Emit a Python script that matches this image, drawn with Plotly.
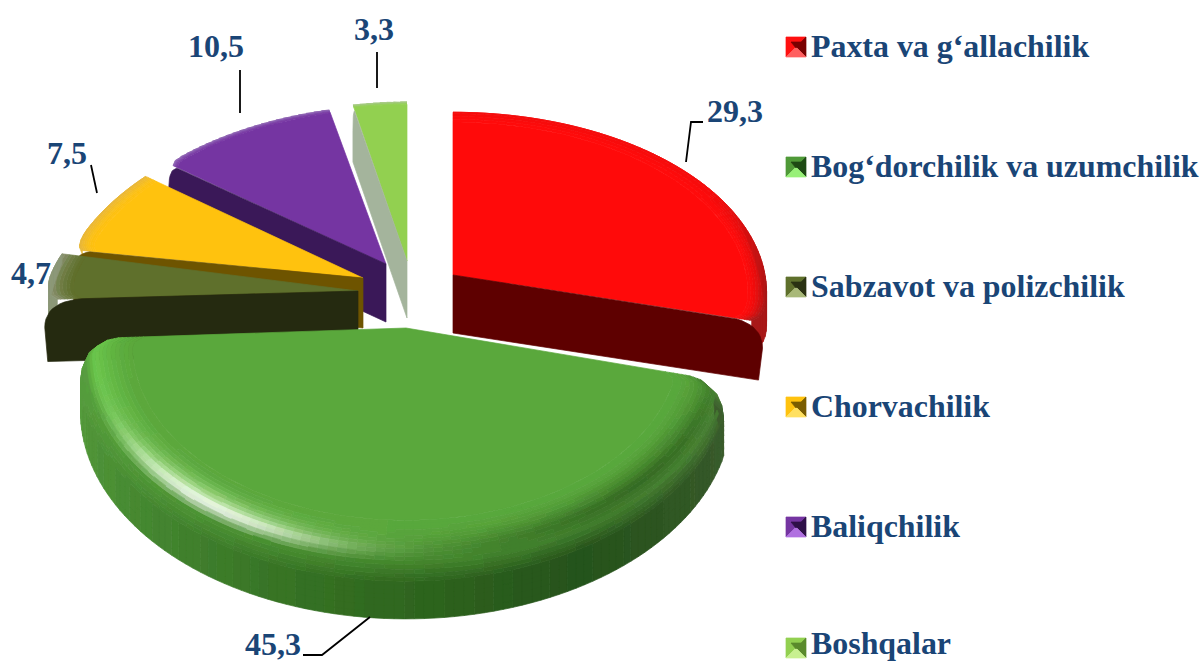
import math
import plotly.graph_objects as go

categories = ["Paxta va g‘allachilik", "Bog‘dorchilik va uzumchilik", "Sabzavot va polizchilik",
              "Chorvachilik", "Baliqchilik", "Boshqalar"]
values = [29.3, 45.3, 4.7, 7.5, 10.5, 3.3]

# look of each slice (apex x, y, radii, visible cut face, etc.), pixel-like axis units
styles = [
    dict(ax=453, ay=275, rx=312, ry=179, sh=0, face="end", depth=58, ins=4, base="#ff0a0a", fc="#5e0000",
         rim="#a81818", inner=0.94, wd=30, rnd=(0, 1), w=7, ra=0.035, lit=(60, 95), qf=0.88),
    dict(ax=406, ay=328, rx=324, ry=206, sh=0, face=None, depth=62, ins=0, base="#5aa83c", fc="#2c5c1c",
         rim="#2f6a1d", inner=0.84, wd=0, rnd=(1, 1), w=4, ra=0.04, lit=None, qf=0.9),
    dict(ax=358, ay=291, rx=312, ry=160, sh=0, face="start", depth=62, ins=-3, base="#5f702c", fc="#252a10",
         rim="#8d9676", inner=0.92, wd=30, rnd=(1, 0), w=9, ra=0.04, lit=None, qf=0.86),
    dict(ax=363, ay=278, rx=305, ry=184, sh=0.05, face="start", depth=50, ins=0, base="#ffc20e", fc="#6e5400",
         rim="#e8b838", inner=0.95, wd=12, rnd=(1, 0), w=7, ra=0.03, lit=None, qf=0.92),
    dict(ax=386, ay=264, rx=305, ry=175, sh=0.03, face="start", depth=58, ins=0, base="#7535a2", fc="#3a1858",
         rim="#8f66b4", inner=0.98, wd=0, rnd=(1, 0), w=4, ra=0.02, lit=None, qf=0.94),
    dict(ax=407, ay=261, rx=290, ry=175, sh=0, face="start", depth=57, ins=0, base="#92d050", fc="#a4b49c",
         rim="#a8c888", inner=0.985, wd=0, rnd=(0, 0), w=3, ra=0.0, lit=None, qf=0.95),
]
draw_order = [5, 4, 3, 2, 0, 1]
K = 0.10
TEXT = "#1a4576"
FONT = "Liberation Serif"

leaders = [
    ([686, 691, 703], [162, 122, 122]),
    ([303, 322, 370], [655, 655, 617]),
    ([97, 91], [193, 165]),
    ([240, 240], [113, 70]),
    ([377, 377], [88, 52]),
]
label_xy = [(735, 114), (273, 647), (31, 276), (67, 156), (216, 49), (374, 32)]
legend_y = [47, 167, 287, 407, 527, 648]
legend_text_y = [49, 169, 289, 409, 529, 646]
legend_colors = [("#ff1010", "#7a0000", "#ff6060"), ("#4f9a38", "#1e4a14", "#98f078"),
                 ("#5f702c", "#2a3212", "#a8b878"), ("#ffc20e", "#7a5c00", "#ffe060"),
                 ("#7535a2", "#2e1048", "#b070e0"), ("#92d050", "#5a8a2c", "#c8f090")]
# wall tint of the big slice around its arc: (angle, colour)
green_wall = [(105, "#3c5c2e"), (150, "#25521a"), (185, "#30691f"), (240, "#4b8f35"), (270, "#5aa040")]


def rgb(h):
    return tuple(int(h[i:i + 2], 16) for i in (1, 3, 5))


def mix(a, b, q):
    q = max(0.0, min(1.0, q))
    return tuple(a[i] + (b[i] - a[i]) * q for i in range(3))


def tohex(c, step=4):
    return "#%02x%02x%02x" % tuple(min(255, int(round(v / step) * step)) for v in c)


fig = go.Figure()


def add_poly(xs, ys, color, lw=0.7):
    fig.add_trace(go.Scatter(x=xs, y=ys, mode="lines", fill="toself", fillcolor=color,
                             line=dict(color=color, width=lw), hoverinfo="skip", showlegend=False))


def pt(s, deg, t=1.0, d=0.0):
    a = math.radians(deg)
    u, v = math.sin(a), math.cos(a)
    f = 1.0 / (1.0 + K * v)
    dx = s["rx"] * u * f * t
    return s["ax"] + dx, s["ay"] - s["ry"] * v * f * t + d - s["sh"] * dx


def round_r(s, deg, a0, a1):
    w = s["w"]
    out = 1.0
    if s["rnd"][0] and deg - a0 < w:
        x = (w - (deg - a0)) / w
        out = min(out, 1.0 - s["ra"] * (1 - math.sqrt(max(0.0, 1 - x * x))))
    if s["rnd"][1] and a1 - deg < w:
        x = (w - (a1 - deg)) / w
        out = min(out, 1.0 - s["ra"] * (1 - math.sqrt(max(0.0, 1 - x * x))))
    return out


GREEN_PROFILE = [(0.84, 0), (0.88, 0), (0.92, 0), (0.955, 2), (0.98, 8), (0.995, 18), (1.0, 28), (1.0, 42), (1.0, 62)]
GREEN_Q = [0.0, 0.2, 0.42, 0.62, 0.72, 0.82, 0.9, 0.96, 1.0]


def refine(rows, k):
    out = []
    for a, b in zip(rows, rows[1:]):
        for i in range(k):
            q = i / k
            out.append(tuple(a[j] + (b[j] - a[j]) * q for j in range(len(a))))
    out.append(tuple(rows[-1]))
    return out


def wall_color(deg):
    if deg <= green_wall[0][0]:
        return rgb(green_wall[0][1])
    for (a, ca), (b, cb) in zip(green_wall, green_wall[1:]):
        if deg <= b:
            return mix(rgb(ca), rgb(cb), (deg - a) / (b - a))
    return rgb(green_wall[-1][1])


def green_color(s, deg, q):
    base = rgb(s["base"])
    dark = rgb("#2a5a1a")
    lit_hi = math.exp(-((deg - 217) / 22) ** 2)
    lit_left = math.exp(-((deg - 262) / 26) ** 2)
    dark_right = math.exp(-((deg - 135) / 42) ** 2)

    def top(p):
        c = mix(base, rgb("#bff0a0"), (p ** 2) * 1.0 * lit_hi)
        c = mix(c, (255, 255, 255), (p ** 6) * 1.0 * lit_hi)
        c = mix(c, rgb("#6fd050"), (p ** 1.5) * 0.8 * lit_left)
        return mix(c, dark, (p ** 2) * 0.8 * dark_right)

    if q < 0.62:
        return top(q / 0.62)
    p = (q - 0.62) / 0.38
    wall = wall_color(deg)
    if p < 0.3:
        return mix(top(1.0), mix(base, wall, 0.5), p / 0.3)
    return mix(mix(base, wall, 0.5), wall, (p - 0.3) / 0.4)


def draw_slice(s, a0, a1):
    is_green = s["face"] is None
    n = max(8, int((a1 - a0) / 1.6))
    degs = [a0 + (a1 - a0) * i / n for i in range(n + 1)]
    base = rgb(s["base"])
    rim = rgb(s["rim"])
    inner = s["inner"]
    xs, ys = [s["ax"]], [s["ay"]]
    for g in degs:
        x, y = pt(s, g, inner * round_r(s, g, a0, a1))
        xs.append(x); ys.append(y)
    add_poly(xs + [xs[0]], ys + [ys[0]], s["base"])

    if is_green:
        rows = refine([(t, d, q) for (t, d), q in zip(GREEN_PROFILE, GREEN_Q)], 3)
    else:
        rows = refine([(inner, 0, 0.0), (1.0, 0, 1.0)], 7)

    buckets = {}
    for i in range(n):
        g0, g1 = degs[i], degs[i + 1]
        gm = (g0 + g1) / 2
        r0, r1 = round_r(s, g0, a0, a1), round_r(s, g1, a0, a1)
        fade = lambda g: max(0.0, min(1.0, (0.35 - math.cos(math.radians(g))) / 0.35))
        rw = rows
        if not is_green and s["wd"]:
            rw = rows + [(1.0, s["wd"], 1.0)]
        for j in range(len(rw) - 1):
            t0, d0, q0 = rw[j]
            t1, d1, q1 = rw[j + 1]
            qm = (q0 + q1) / 2
            if is_green:
                c = green_color(s, gm, qm)
                f0 = f1 = 1.0
            else:
                wt = 1.0
                if s["lit"]:
                    wt = 0.12 + 0.88 * max(0.0, min(1.0, (gm - s["lit"][0]) / (s["lit"][1] - s["lit"][0])))
                c = mix(base, rim, (qm ** 1.6) * wt)
                f0, f1 = fade(g0), fade(g1)
            p = [pt(s, g0, t0 * r0, d0 * f0), pt(s, g1, t0 * r1, d0 * f1),
                 pt(s, g1, t1 * r1, d1 * f1), pt(s, g0, t1 * r0, d1 * f0)]
            area = sum(p[k][0] * p[(k + 1) % 4][1] - p[(k + 1) % 4][0] * p[k][1] for k in range(4))
            if area < 0:
                p.reverse()
            b = buckets.setdefault(tohex(c), ([], []))
            b[0].extend([q[0] for q in p] + [p[0][0], None])
            b[1].extend([q[1] for q in p] + [p[0][1], None])
    for color, (bx, by) in buckets.items():
        add_poly(bx, by, color)

    if s["face"]:
        edge = a1 if s["face"] == "end" else a0
        ex, ey = pt(s, edge)
        dep = s["depth"]
        ax, ay = s["ax"], s["ay"]
        px, py = [ax], [ay]
        qx, qy = ax + (ex - ax) * s["qf"], ay + (ey - ay) * s["qf"]
        cy = ey + dep * 0.45
        for i in range(13):
            q = i / 12
            px.append((1 - q) ** 2 * qx + 2 * q * (1 - q) * ex + q * q * ex)
            py.append((1 - q) ** 2 * qy + 2 * q * (1 - q) * ey + q * q * cy)
        px += [ex - s["ins"], ax]
        py += [ey + dep, ay + dep]
        add_poly(px + [ax], py + [ay], s["fc"])


total = sum(values)
angles = []
acc = 0.0
for v in values:
    angles.append((acc, acc + v / total * 360))
    acc += v / total * 360

for i in draw_order:
    draw_slice(styles[i], angles[i][0], angles[i][1])

for lx, ly in leaders:
    fig.add_trace(go.Scatter(x=lx, y=ly, mode="lines", line=dict(color="#000000", width=1.8),
                             hoverinfo="skip", showlegend=False))

value_labels = [f"{v:.1f}".replace(".", ",") for v in values]
fig.add_trace(go.Scatter(x=[p[0] for p in label_xy], y=[p[1] for p in label_xy], mode="text",
                         text=[f"<b>{t}</b>" for t in value_labels], textposition="middle center",
                         textfont=dict(family=FONT, size=32, color=TEXT), hoverinfo="skip", showlegend=False))

# legend keys: bevelled squares
KX, KS = 796, 10
for y, (c, dk, lt) in zip(legend_y, legend_colors):
    add_poly([KX - KS, KX + KS, KX, KX - KS], [y - KS, y - KS, y, y - KS], c)
    add_poly([KX - KS, KX, KX - KS, KX - KS], [y - KS, y, y + KS, y - KS], c)
    add_poly([KX + KS, KX, KX + KS, KX + KS], [y - KS, y, y + KS, y - KS], dk)
    add_poly([KX - KS, KX + KS, KX, KX - KS], [y + KS, y + KS, y, y + KS], lt)
    add_poly([KX - 5, KX + 5, KX, KX - 5], [y - 5, y - 5, y + 1, y - 5], dk)

fig.add_trace(go.Scatter(x=[811] * 6, y=legend_text_y, mode="text",
                         text=[f"<b>{t}</b>" for t in categories], textposition="middle right",
                         textfont=dict(family=FONT, size=31.9, color=TEXT), hoverinfo="skip", showlegend=False))

fig.update_layout(width=1200, height=663, margin=dict(l=0, r=0, t=0, b=0), showlegend=False,
                  plot_bgcolor="#ffffff", paper_bgcolor="#ffffff",
                  xaxis=dict(range=[0, 1200], visible=False, fixedrange=True),
                  yaxis=dict(range=[663, 0], visible=False, fixedrange=True))
fig.write_html("out.html", config={"displayModeBar": False},
               post_script="document.body.style.margin='0';document.body.style.overflow='hidden';")
